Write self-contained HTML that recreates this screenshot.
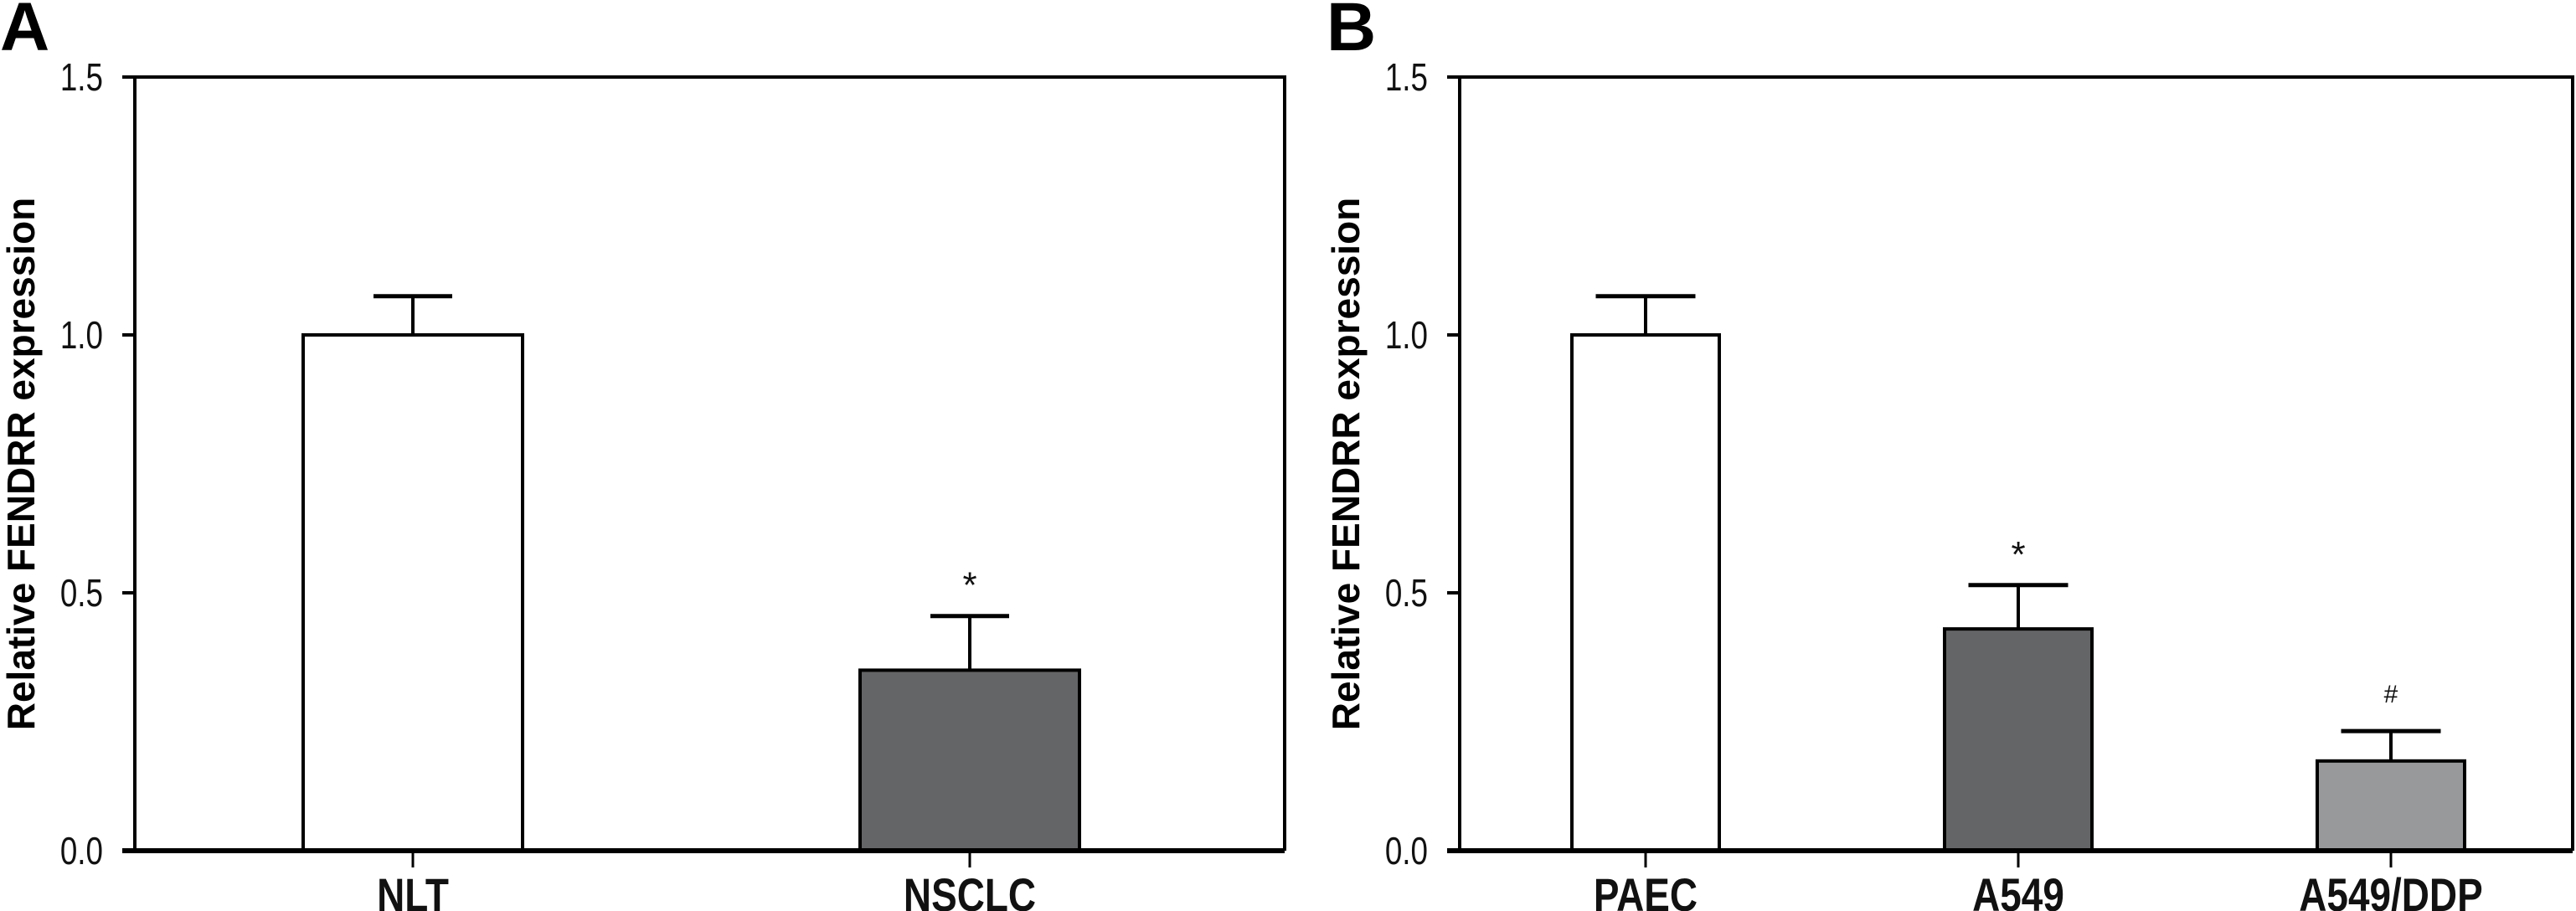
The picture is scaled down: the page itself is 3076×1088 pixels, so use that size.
<!DOCTYPE html>
<html><head><meta charset="utf-8"><style>
body{margin:0;background:#fff}
svg{display:block}
text{font-family:"Liberation Sans Narrow","Liberation Sans",sans-serif}
</style></head><body>
<svg id="fig" width="3076" height="1088" viewBox="0 0 3076 1088">
<text x="0" y="60" font-size="82" font-weight="bold" font-family="Liberation Sans, sans-serif">A</text>
<text x="1584" y="60" font-size="82" font-weight="bold" font-family="Liberation Sans, sans-serif">B</text>
</svg>
<script>
const catsA = ["NLT","NSCLC"];
const valsA = [1.0, 0.35];
const errA = [0.075, 0.105];
const marksA = ["", "*"];
const catsB = ["PAEC","A549","A549/DDP"];
const valsB = [1.0, 0.43, 0.174];
const errB = [0.075, 0.085, 0.058];
const marksB = ["", "*", "#"];
const yTicks = [0.0, 0.5, 1.0, 1.5];
const yTickLabels = ["0.0","0.5","1.0","1.5"];
const fillsA = ["#ffffff","#646566"];
const fillsB = ["#ffffff","#646566","#98999b"];
const NS = "http://www.w3.org/2000/svg";
const svg = document.getElementById('fig');
function mk(tag, attrs, parent){const e=document.createElementNS(NS,tag);for(const k in attrs)e.setAttribute(k,attrs[k]);(parent||svg).appendChild(e);return e;}
function panel(id, x0, x1, firstC, step, cats, vals, errs, marks, fills, barW, capW){
  const top=92, bot=1016, ymax=1.5;
  const y = v => bot - (v/ymax)*(bot-top);
  const xc = i => firstC + step*i;
  const g = mk('g',{});
  
  
  const box = mk('path',{d:`M${x0},${bot} L${x0},${top} L${x1},${top} L${x1},${bot}`,fill:'none',stroke:'#000','stroke-width':4},g);
  
  
  yTicks.forEach((t,i)=>{
    const tl = mk('line',{x1:x0-15,x2:x0,y1:y(t),y2:y(t),stroke:'#000','stroke-width':4},g);
    
    
    const tx = mk('text',{x:x0-38,y:y(t)+16,'font-size':46,'text-anchor':'end',fill:'#111',transform:`translate(${x0-38},0) scale(0.8,1) translate(${-(x0-38)},0)`},g);
    tx.textContent = yTickLabels[i];
    
    
  });
  const title = mk('text',{x:0,y:0,'font-size':46,'font-weight':'bold','text-anchor':'middle','font-family':'Liberation Sans, sans-serif',transform:`translate(${x0-120},554) rotate(-90)`},g);
  title.textContent = 'Relative FENDRR expression';
  
  
  cats.forEach((c,i)=>{
    const cx=xc(i);
    const el = mk('line',{x1:cx,x2:cx,y1:y(vals[i]),y2:y(vals[i]+errs[i]),stroke:'#000','stroke-width':4},g);
    
    
    const cap = mk('line',{x1:cx-capW/2,x2:cx+capW/2,y1:y(vals[i]+errs[i]),y2:y(vals[i]+errs[i]),stroke:'#000','stroke-width':5},g);
    
    
    const b = mk('rect',{x:cx-barW/2,y:y(vals[i]),width:barW,height:bot-y(vals[i]),fill:fills[i],stroke:'#000','stroke-width':4},g);
    
    
    const tk = mk('line',{x1:cx,x2:cx,y1:bot,y2:bot+20,stroke:'#000','stroke-width':3},g);
    
    
    const lb = mk('text',{x:cx,y:1088,'font-size':56,'font-weight':'bold','text-anchor':'middle',fill:'#111',transform:`translate(${cx},0) scale(0.82,1) translate(${-cx},0)`},g);
    lb.textContent = c;
    
    
    if(marks[i]){
      const m = mk('text',{x:cx,y:y(vals[i]+errs[i])-(marks[i]==='*'?22:34),'font-size':marks[i]==='*'?44:30,'text-anchor':'middle',fill:'#111'},g);
      m.textContent = marks[i];
      
      
    }
  });
  const base = mk('line',{x1:x0-15,x2:x1,y1:bot,y2:bot,stroke:'#000','stroke-width':6},g);
  
  
}
panel('panel-a',161,1534,493,665,catsA,valsA,errA,marksA,fillsA,262,94);
panel('panel-b',1743,3072,1965,445,catsB,valsB,errB,marksB,fillsB,176,119);
</script>
</body></html>
